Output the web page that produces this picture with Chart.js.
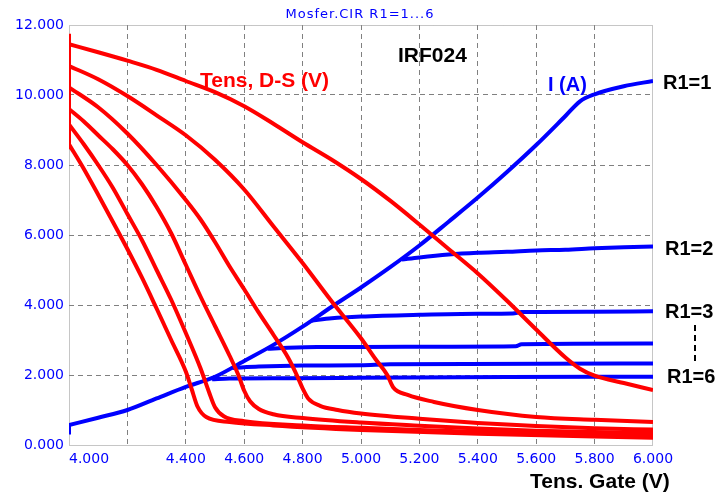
<!DOCTYPE html>
<html>
<head>
<meta charset="utf-8">
<script src="https://cdn.jsdelivr.net/npm/chart.js@4.4.0/dist/chart.umd.min.js"></script>
<style>
  html, body { margin: 0; padding: 0; background: #fff; }
</style>
</head>
<body>
<canvas id="mosfet" width="722" height="495"></canvas>
<script>
// gate voltage tick labels (4.200 is not printed on the original)
const gateTicks = [4.0, 4.4, 4.6, 4.8, 5.0, 5.2, 5.4, 5.6, 5.8, 6.0];

// start-up step of the simulation at Vgs = 4.0
const stepX = [4.0, 4.0];
const vStepY = [11.75, 8.45];
const iStepY = [0.3, 0.57];

// drain current I (A), one curve per R1
const iR1x = [4.0, 4.1, 4.2, 4.3, 4.4, 4.5, 4.6, 4.7, 4.8, 4.9, 5.0, 5.1, 5.2, 5.3, 5.4, 5.5, 5.6, 5.7, 5.75, 5.8, 5.9, 6.0];
const iR1y = [0.57, 0.78, 1.0, 1.33, 1.66, 1.95, 2.4, 2.86, 3.38, 3.95, 4.5, 5.08, 5.7, 6.38, 7.07, 7.8, 8.57, 9.4, 9.82, 10.02, 10.25, 10.4];
const iR2x = [5.14, 5.2, 5.3, 5.4, 5.5, 5.6, 5.7, 5.8, 5.9, 6.0];
const iR2y = [5.3, 5.36, 5.44, 5.49, 5.52, 5.56, 5.58, 5.62, 5.65, 5.67];
const iR3x = [4.83, 4.9, 5.0, 5.2, 5.4, 5.52, 5.55, 5.8, 6.0];
const iR3y = [3.55, 3.62, 3.67, 3.72, 3.75, 3.76, 3.8, 3.81, 3.82];
const iR4x = [4.68, 4.75, 4.85, 5.0, 5.3, 5.53, 5.55, 6.0];
const iR4y = [2.75, 2.78, 2.8, 2.8, 2.81, 2.82, 2.88, 2.9];
const iR5x = [4.56, 4.65, 4.8, 5.0, 5.1, 6.0];
const iR5y = [2.2, 2.24, 2.27, 2.28, 2.31, 2.33];
const iR6x = [4.49, 4.55, 4.75, 5.0, 5.5, 6.0];
const iR6y = [1.88, 1.9, 1.91, 1.92, 1.94, 1.95];

// drain-source voltage (V), one curve per R1
const vR1x = [4.0, 4.1, 4.2, 4.3, 4.4, 4.5, 4.6, 4.7, 4.8, 4.9, 5.0, 5.1, 5.2, 5.3, 5.4, 5.5, 5.6, 5.7, 5.75, 5.8, 5.9, 6.0];
const vR1y = [11.45, 11.22, 10.98, 10.72, 10.4, 10.08, 9.68, 9.18, 8.65, 8.15, 7.6, 6.98, 6.3, 5.6, 4.9, 4.12, 3.3, 2.5, 2.18, 1.98, 1.77, 1.57];
const vR2x = [4.0, 4.1, 4.2, 4.3, 4.4, 4.5, 4.6, 4.7, 4.8, 4.9, 5.0, 5.05, 5.09, 5.11, 5.16, 5.25, 5.4, 5.6, 5.8, 6.0];
const vR2y = [10.83, 10.45, 9.97, 9.42, 8.85, 8.15, 7.3, 6.25, 5.2, 4.1, 3.05, 2.45, 2.0, 1.65, 1.43, 1.23, 1.0, 0.8, 0.72, 0.66];
const vR3x = [4.0, 4.1, 4.2, 4.3, 4.4, 4.45, 4.5, 4.55, 4.6, 4.65, 4.7, 4.75, 4.78, 4.8, 4.82, 4.86, 4.92, 5.0, 5.2, 5.4, 5.6, 5.8, 6.0];
const vR3y = [10.22, 9.65, 8.9, 8.0, 7.0, 6.45, 5.8, 5.1, 4.45, 3.78, 3.15, 2.5, 2.0, 1.62, 1.32, 1.12, 1.0, 0.9, 0.75, 0.63, 0.54, 0.48, 0.44];
const vR4x = [4.0, 4.05, 4.1, 4.15, 4.2, 4.25, 4.3, 4.35, 4.4, 4.45, 4.5, 4.55, 4.58, 4.6, 4.62, 4.65, 4.7, 4.8, 5.0, 5.2, 5.4, 5.6, 5.8, 6.0];
const vR4y = [9.6, 9.25, 8.85, 8.45, 8.0, 7.45, 6.8, 6.05, 5.15, 4.25, 3.4, 2.55, 2.0, 1.55, 1.25, 1.03, 0.88, 0.77, 0.64, 0.55, 0.47, 0.41, 0.37, 0.34];
const vR5x = [4.0, 4.05, 4.1, 4.15, 4.2, 4.25, 4.3, 4.35, 4.4, 4.45, 4.48, 4.5, 4.53, 4.6, 4.8, 5.0, 5.2, 5.4, 5.6, 5.8, 6.0];
const vR5y = [9.16, 8.6, 8.0, 7.35, 6.6, 5.85, 5.0, 4.15, 3.2, 2.2, 1.5, 1.08, 0.82, 0.68, 0.56, 0.49, 0.43, 0.38, 0.33, 0.3, 0.27];
const vR6x = [4.0, 4.05, 4.1, 4.15, 4.2, 4.25, 4.3, 4.35, 4.4, 4.42, 4.44, 4.47, 4.55, 4.7, 5.0, 5.4, 6.0];
const vR6y = [8.59, 7.9, 7.15, 6.38, 5.6, 4.78, 3.9, 3.0, 2.1, 1.6, 1.1, 0.8, 0.66, 0.56, 0.43, 0.32, 0.21];

const RED = '#ff0000';
const BLUE = '#0000ff';

const pts = (xs, ys) => xs.map((x, i) => ({ x: x, y: ys[i] }));
const line = (xs, ys, color) => ({
  data: pts(xs, ys),
  borderColor: color,
  borderWidth: 4,
  pointRadius: 0,
  fill: false,
  cubicInterpolationMode: 'monotone'
});

const edge = (v, a, b) => Math.abs(v - a) < 1e-6 || Math.abs(v - b) < 1e-6;

// frame, x labels and the free texts
const overlay = {
  id: 'overlay',
  beforeDatasetsDraw(chart) {
    const { ctx, chartArea: a } = chart;
    ctx.save();
    ctx.strokeStyle = '#8c8c8c';
    ctx.lineWidth = 1;
    ctx.setLineDash([1, 1]);
    ctx.strokeRect(a.left + 0.5, a.top + 0.5, a.right - a.left - 1, a.bottom - a.top);
    ctx.restore();
  },
  afterDraw(chart) {
    const ctx = chart.ctx;
    const xs = chart.scales.x;
    ctx.save();
    ctx.textBaseline = 'alphabetic';

    ctx.font = '14px "DejaVu Sans"';
    ctx.fillStyle = BLUE;
    gateTicks.forEach((v, i) => {
      ctx.textAlign = i === 0 ? 'left' : 'center';
      ctx.fillText(v.toFixed(3), xs.getPixelForValue(v), 463);
    });

    ctx.textAlign = 'center';
    ctx.font = '13px "DejaVu Sans"';
    ctx.letterSpacing = '1px';
    ctx.fillText('Mosfer.CIR R1=1...6', 360, 18);
    ctx.letterSpacing = '0px';

    ctx.textAlign = 'left';
    ctx.font = 'bold 21px "Liberation Sans"';
    ctx.fillStyle = '#000';
    ctx.fillText('IRF024', 398, 62);
    ctx.fillText('Tens. Gate (V)', 530, 488);

    ctx.fillStyle = RED;
    ctx.fillText('Tens, D-S (V)', 200, 87);

    ctx.font = 'bold 20px "Liberation Sans"';
    ctx.fillStyle = BLUE;
    ctx.fillText('I (A)', 548, 91);

    ctx.fillStyle = '#000';
    ctx.fillText('R1=1', 663, 89);
    ctx.fillText('R1=2', 665, 255);
    ctx.fillText('R1=3', 665, 318);
    ctx.fillText('R1=6', 667, 383);

    ctx.strokeStyle = '#000';
    ctx.lineWidth = 2;
    ctx.setLineDash([6, 4]);
    ctx.beginPath();
    ctx.moveTo(695, 325);
    ctx.lineTo(695, 364);
    ctx.stroke();
    ctx.restore();
  }
};

new Chart(document.getElementById('mosfet'), {
  type: 'line',
  data: {
    datasets: [
      line(stepX, vStepY, RED),
      line(vR1x, vR1y, RED),
      line(vR2x, vR2y, RED),
      line(vR3x, vR3y, RED),
      line(vR4x, vR4y, RED),
      line(vR5x, vR5y, RED),
      line(vR6x, vR6y, RED),
      line(stepX, iStepY, BLUE),
      line(iR1x, iR1y, BLUE),
      line(iR2x, iR2y, BLUE),
      line(iR3x, iR3y, BLUE),
      line(iR4x, iR4y, BLUE),
      line(iR5x, iR5y, BLUE),
      line(iR6x, iR6y, BLUE)
    ]
  },
  options: {
    responsive: false,
    animation: false,
    layout: { padding: { top: 25, right: 69, bottom: 0, left: 0 } },
    plugins: { legend: { display: false }, tooltip: { enabled: false } },
    scales: {
      x: {
        type: 'linear',
        min: 4,
        max: 6,
        ticks: { stepSize: 0.2, display: false },
        grid: {
          drawTicks: false,
          color: c => (c.tick && edge(c.tick.value, 4, 6)) ? 'rgba(0,0,0,0)' : '#808080'
        },
        border: { display: false, dash: [5, 4] },
        afterFit: s => { s.height = 50; }
      },
      y: {
        min: 0,
        max: 12,
        ticks: {
          stepSize: 2,
          color: BLUE,
          padding: 5,
          font: { family: 'DejaVu Sans', size: 14 },
          callback: v => Number(v).toFixed(3)
        },
        grid: {
          drawTicks: false,
          color: c => (c.tick && edge(c.tick.value, 0, 12)) ? 'rgba(0,0,0,0)' : '#808080'
        },
        border: { display: false, dash: [5, 4] },
        afterFit: s => { s.width = 69; }
      }
    }
  },
  plugins: [overlay]
});
</script>
</body>
</html>
